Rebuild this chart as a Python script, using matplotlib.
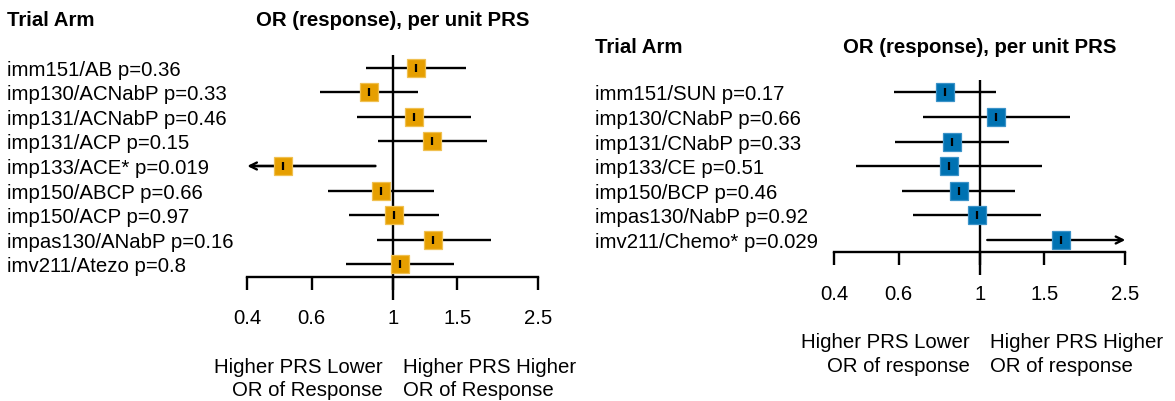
import matplotlib
matplotlib.use('Agg')
import matplotlib.pyplot as plt

plt.rcParams['font.family'] = ['Liberation Sans', 'DejaVu Sans']
plt.rcParams['font.size'] = 14.7

# left panel: immunotherapy arms
labels_left = ["imm151/AB p=0.36", "imp130/ACNabP p=0.33", "imp131/ACNabP p=0.46",
               "imp131/ACP p=0.15", "imp133/ACE* p=0.019", "imp150/ABCP p=0.66",
               "imp150/ACP p=0.97", "impas130/ANabP p=0.16", "imv211/Atezo p=0.8"]
or_left = [1.155, 0.861, 1.143, 1.282, 0.501, 0.930, 1.006, 1.290, 1.046]
lo_left = [0.845, 0.632, 0.800, 0.909, 0.330, 0.664, 0.758, 0.904, 0.743]
hi_left = [1.583, 1.172, 1.633, 1.813, 0.896, 1.299, 1.338, 1.852, 1.470]

# right panel: control arms
labels_right = ["imm151/SUN p=0.17", "imp130/CNabP p=0.66", "imp131/CNabP p=0.33",
                "imp133/CE p=0.51", "imp150/BCP p=0.46", "impas130/NabP p=0.92",
                "imv211/Chemo* p=0.029"]
or_right = [0.803, 1.110, 0.838, 0.824, 0.876, 0.983, 1.667]
lo_right = [0.581, 0.699, 0.585, 0.459, 0.612, 0.658, 1.048]
hi_right = [1.110, 1.761, 1.204, 1.479, 1.250, 1.467, 2.900]

ticks = [0.4, 0.6, 1, 1.5, 2.5]
tick_labels = ["0.4", "0.6", "1", "1.5", "2.5"]

W, H = 1175, 402
ROW = 24.6
LW = 1.7


def forest(x0, x1, axis_y, label_x, title_gap, labels, est, lo, hi,
           colour, edge, bottom_right_text):
    n = len(labels)
    top = axis_y - n * ROW
    ax = fig.add_axes([x0 / W, 1 - axis_y / H, (x1 - x0) / W, (axis_y - top) / H])
    ax.set_xscale('log')
    ax.set_xlim(0.4, 2.5)
    ax.set_ylim(n - 0.5, -0.5)
    for s in ['top', 'left', 'right']:
        ax.spines[s].set_visible(False)
    ax.spines['bottom'].set_linewidth(LW)
    ax.set_yticks([])
    ax.set_xticks(ticks)
    ax.set_xticks([], minor=True)
    ax.set_xticklabels(tick_labels)
    ax.tick_params(axis='x', direction='out', length=9.3, width=LW, pad=13.5)

    # reference line at OR = 1
    ax.plot([1, 1], [-0.5, n - 0.5 + 23 / ROW], color='black', lw=LW,
            clip_on=False, zorder=1, solid_capstyle='butt')

    rows = list(range(n))
    for i in rows:
        a, b = lo[i], hi[i]
        if a < 0.4:
            ax.plot([0.41, b], [i, i], color='black', lw=LW, zorder=2)
            ax.annotate('', xy=(0.4, i), xytext=(b, i), annotation_clip=False,
                        arrowprops=dict(arrowstyle='->,head_length=0.5,head_width=0.25',
                                        lw=LW, color='black', shrinkA=0, shrinkB=0,
                                        mutation_scale=10), zorder=2)
        elif b > 2.5:
            ax.annotate('', xy=(2.5, i), xytext=(a, i), annotation_clip=False,
                        arrowprops=dict(arrowstyle='->,head_length=0.5,head_width=0.25',
                                        lw=LW, color='black', shrinkA=0, shrinkB=0,
                                        mutation_scale=10), zorder=2)
        else:
            ax.plot([a, b], [i, i], color='black', lw=LW, zorder=2,
                    solid_capstyle='butt')

    ax.plot(est, rows, 's', color=colour, markersize=12.6, markeredgecolor=edge,
            markeredgewidth=0.9, zorder=3, clip_on=False)
    ax.plot(est, rows, '|', color='black', markersize=5.5, markeredgewidth=1.6,
            zorder=4, clip_on=False)

    # row labels
    for i, lab in enumerate(labels):
        ax.annotate(lab, xy=(label_x / W, i), xycoords=('figure fraction', 'data'),
                    xytext=(0, -5.0), textcoords='offset points', va='baseline',
                    ha='left', annotation_clip=False)

    # headers
    ax.annotate("Trial Arm", xy=(label_x / W, 0), xycoords=('figure fraction', 'data'),
                xytext=(0, title_gap * 0.72), textcoords='offset points',
                va='baseline', ha='left', fontweight='bold', annotation_clip=False)
    ax.annotate("OR (response), per unit PRS", xy=(1, 0), xycoords='data',
                xytext=(0, title_gap * 0.72), textcoords='offset points',
                va='baseline', ha='center', fontweight='bold', annotation_clip=False)

    # direction labels below the axis
    left_lines = ["Higher PRS Lower", bottom_right_text]
    right_lines = ["Higher PRS Higher", bottom_right_text]
    for k, off in enumerate([95.0, 118.5]):
        ax.annotate(left_lines[k], xy=(1, n - 0.5), xycoords='data',
                    xytext=(-10 * 0.72, -off * 0.72), textcoords='offset points',
                    va='baseline', ha='right', annotation_clip=False)
        ax.annotate(right_lines[k], xy=(1, n - 0.5), xycoords='data',
                    xytext=(10.5 * 0.72, -off * 0.72), textcoords='offset points',
                    va='baseline', ha='left', annotation_clip=False)
    return ax


fig = plt.figure(figsize=(11.75, 4.02), dpi=100)

forest(247.3, 538.3, 277.7, 7.0, 42.3, labels_left, or_left, lo_left, hi_left,
       '#E69F00', '#F0C050', "OR of Response")
forest(834.3, 1125.3, 253.3, 594.6, 40.6, labels_right, or_right, lo_right, hi_right,
       '#0072B2', '#3A92C8', "OR of response")

fig.savefig('out.png', dpi=100)
